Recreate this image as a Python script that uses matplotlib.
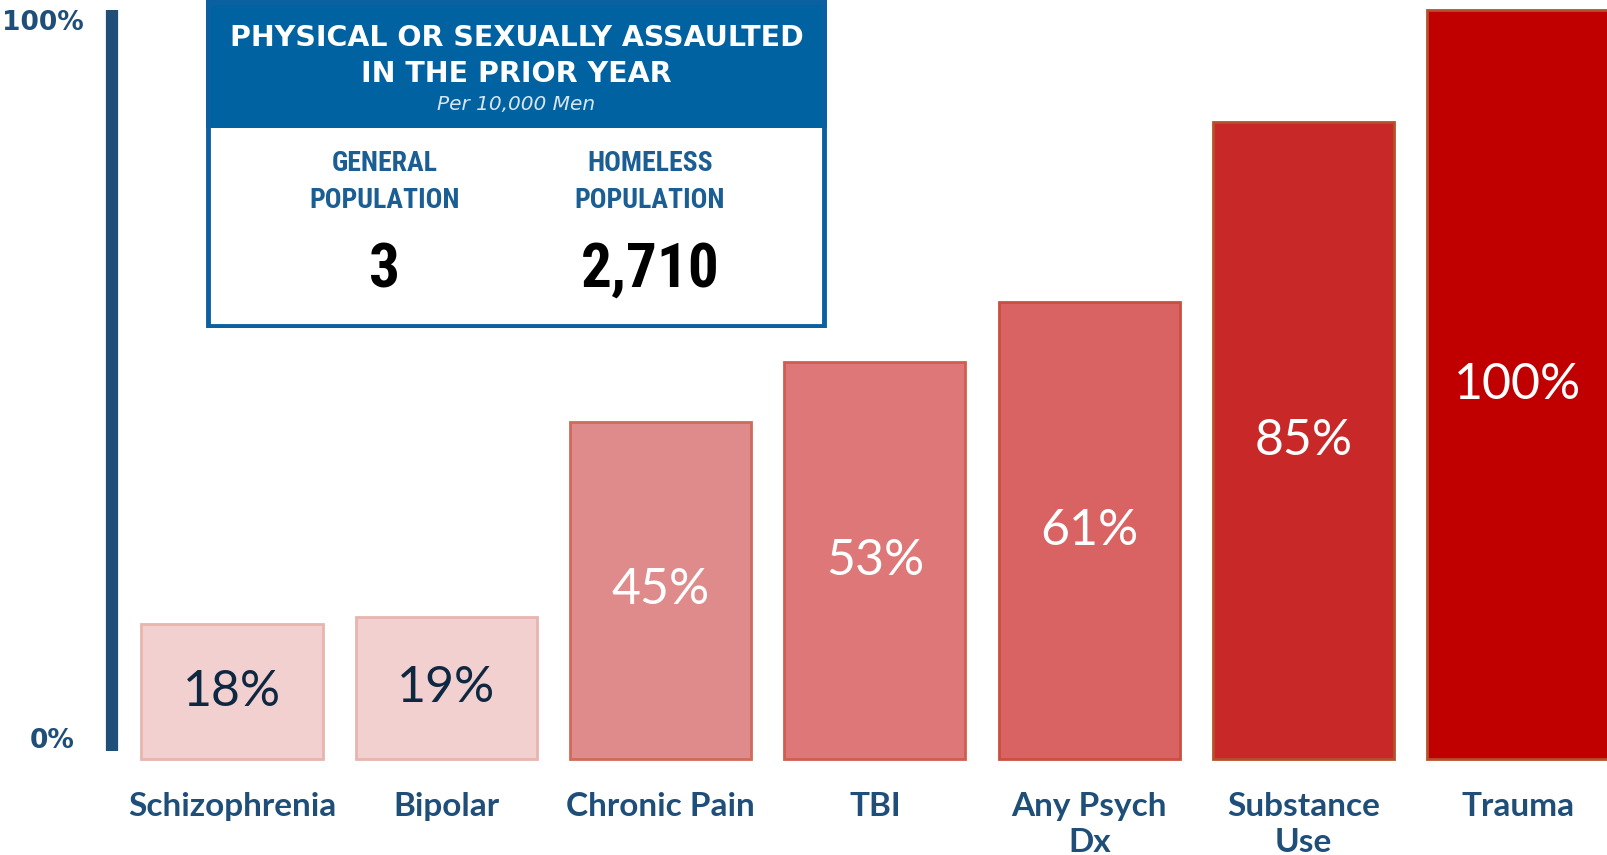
import matplotlib.pyplot as plt
from matplotlib import font_manager
from matplotlib.patches import Rectangle

# data
categories = ['Schizophrenia', 'Bipolar', 'Chronic Pain', 'TBI', 'Any Psych\nDx', 'Substance\nUse', 'Trauma']
values = [18, 19, 45, 53, 61, 85, 100]
fill_colors = ['#F2D0D0', '#F2D0D0', '#E08B8B', '#DE7777', '#D96262', '#C92828', '#C00000']
edge_colors = ['#E8B4AE', '#E8B4AE', '#D06A5A', '#CF5E50', '#C9503F', '#B5502A', '#B5502A']
text_colors = ['#0E2841', '#0E2841', 'white', 'white', 'white', 'white', 'white']

inset_title = 'PHYSICAL OR SEXUALLY ASSAULTED\nIN THE PRIOR YEAR'
inset_sub = 'Per 10,000 Men'
group_names = ['GENERAL\nPOPULATION', 'HOMELESS\nPOPULATION']
group_values = ['3', '2,710']

blue = '#1F4E79'
W, H = 1608, 855

# pick a condensed face for the inset if one is installed
flist = font_manager.fontManager.ttflist
narrow_family, narrow_stretch = 'Roboto', 'normal'
for name, stretch in [('Roboto Condensed', None), ('Open Sans Condensed', None),
                      ('Liberation Sans Narrow', None), ('Noto Sans', 'condensed'),
                      ('Open Sans', 'condensed'), ('DejaVu Sans', 'condensed'),
                      ('Roboto', 'condensed')]:
    if any(f.name == name and (stretch is None or f.stretch == stretch) for f in flist):
        narrow_family, narrow_stretch = name, (stretch or 'normal')
        break

fig = plt.figure(figsize=(W / 100, H / 100), dpi=100)
ax = fig.add_axes([0, 0, 1, 1])

# map data to the picture: x=0 -> px 232, step 214.3; y=0 -> px 759 from top, 100 -> px 10
step = 214.3
ax.set_xlim(-232 / step, (W - 232) / step)
ppu = 749 / 100
ax.set_ylim(-(H - 759) / ppu, 100 + 10 / ppu)

x = list(range(len(categories)))
bars = ax.bar(x, values, width=0.845, color=fill_colors, edgecolor=edge_colors, linewidth=2)

for xi, v, tc in zip(x, values, text_colors):
    ax.text(xi, v / 2, f'{v}%', ha='center', va='center', color=tc,
            fontsize=36, family='Lato')

for xi, c in zip(x, categories):
    ax.text(xi, -4.4, c, ha='center', va='top', color=blue, fontsize=24,
            fontweight='bold', family='Lato', linespacing=1.3)

# axis line as left spine
for s in ['top', 'right', 'bottom']:
    ax.spines[s].set_visible(False)
ax.spines['left'].set_position(('data', (112 - 232) / step))
ax.spines['left'].set_bounds(1.07, 100)
ax.spines['left'].set_linewidth(8.8)
ax.spines['left'].set_color(blue)
ax.spines['left'].set_capstyle('butt')
ax.set_xticks([])
ax.set_yticks([])
ax.set_facecolor('none')

ax.text((84 - 232) / step, 98.2, '100%', ha='right', va='center', color=blue, fontsize=19, fontweight='bold')
ax.text((75 - 232) / step, 2.4, '0%', ha='right', va='center', color=blue, fontsize=19, fontweight='bold')

# inset box (pixel coordinates inside its own axes)
bx0, by0, bw, bh = 206, 0, 621, 328
iax = fig.add_axes([bx0 / W, (H - by0 - bh) / H, bw / W, bh / H])
iax.set_xlim(0, bw)
iax.set_ylim(bh, 0)
iax.axis('off')
iax.add_patch(Rectangle((0, 0), bw, bh, facecolor='white', edgecolor='none'))
iax.add_patch(Rectangle((0, 0), bw, 128, facecolor='#0062A0', edgecolor='none'))
iax.add_patch(Rectangle((2.5, 2), bw - 5, bh - 4.5, facecolor='none', edgecolor='#0B60A0', linewidth=3.5))

iax.text(bw / 2, 56, inset_title, ha='center', va='center', color='white', fontsize=20.5,
         fontweight='bold', family='DejaVu Sans', linespacing=1.4)
iax.text(bw / 2, 104, inset_sub, ha='center', va='center', color='#D8E6F2', fontsize=14.5,
         style='italic', family='DejaVu Sans')

for cx, name, val in zip([179, 444], group_names, group_values):
    iax.text(cx, 182, name, ha='center', va='center', color='#1A5E94', fontsize=20,
             fontweight='bold', family=narrow_family, stretch=narrow_stretch, linespacing=1.45)
    iax.text(cx, 270, val, ha='center', va='center', color='black', fontsize=44,
             fontweight='bold', family=narrow_family, stretch=narrow_stretch)

fig.savefig('out.png', dpi=100)
